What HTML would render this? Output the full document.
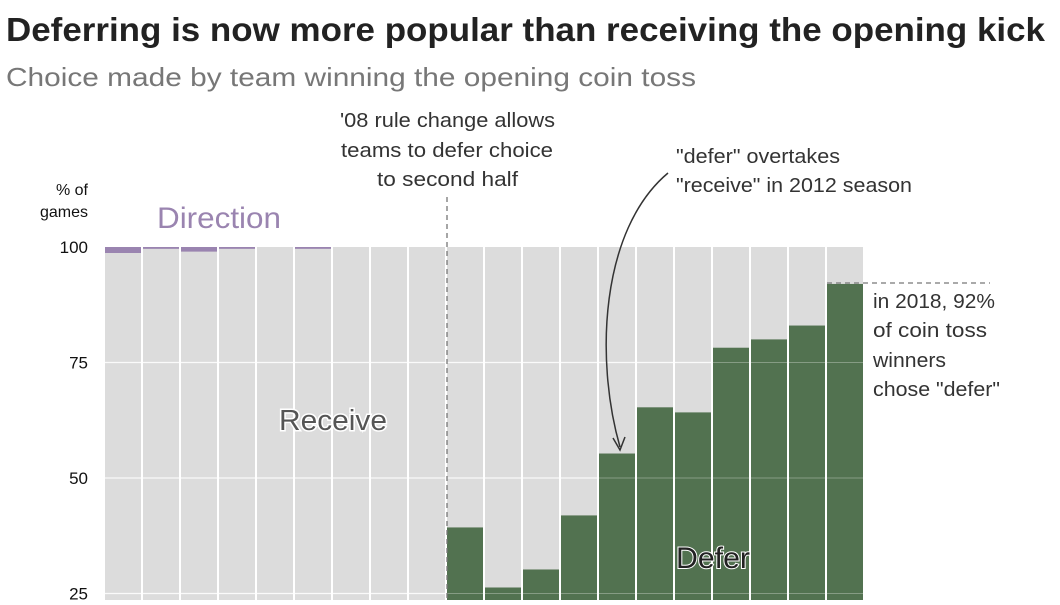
<!DOCTYPE html>
<html><head><meta charset="utf-8"><style>
body{margin:0;background:#fff;width:1060px;height:600px;overflow:hidden;font-family:"Liberation Sans",sans-serif}
</style></head><body>
<svg width="1060" height="600">
<text x="6" y="41" font-size="33" font-weight="bold" fill="#222" textLength="1039" lengthAdjust="spacingAndGlyphs">Deferring is now more popular than receiving the opening kick</text>
<text x="6" y="86" font-size="26" fill="#777" textLength="690" lengthAdjust="spacingAndGlyphs">Choice made by team winning the opening coin toss</text>
<g id="plot"></g>
<text x="88" y="195" font-size="16" text-anchor="end" fill="#111">% of</text>
<text x="88" y="217" font-size="16" text-anchor="end" fill="#111">games</text>
<text x="157" y="228" font-size="30" fill="#9a84b0" textLength="124" lengthAdjust="spacingAndGlyphs">Direction</text>
<text x="279" y="430" font-size="29" fill="#555" textLength="108" lengthAdjust="spacingAndGlyphs" stroke="#fff" stroke-width="3" paint-order="stroke">Receive</text>
<text x="676" y="568" font-size="30" fill="#222" textLength="74" lengthAdjust="spacingAndGlyphs" stroke="#fff" stroke-width="2" paint-order="stroke">Defer</text>
<g font-size="20" fill="#333">
<text x="340" y="127" textLength="215" lengthAdjust="spacingAndGlyphs">'08 rule change allows</text><text x="341" y="157" textLength="212" lengthAdjust="spacingAndGlyphs">teams to defer choice</text><text x="377" y="186" textLength="141" lengthAdjust="spacingAndGlyphs">to second half</text></g>
<line x1="447" y1="197" x2="447" y2="600" stroke="#777" stroke-width="1.3" stroke-dasharray="5,4"/>
<g font-size="20" fill="#333">
<text x="676" y="163" textLength="164" lengthAdjust="spacingAndGlyphs">"defer" overtakes</text><text x="676" y="192" textLength="236" lengthAdjust="spacingAndGlyphs">"receive" in 2012 season</text></g>
<path d="M668,173 C600,230 595,360 620,447" fill="none" stroke="#333" stroke-width="1.5"/>
<path d="M613,438 L620,450 L625,437" fill="none" stroke="#333" stroke-width="1.5"/>
<line x1="827" y1="283" x2="990" y2="283" stroke="#777" stroke-width="1.3" stroke-dasharray="5,4"/>
<g font-size="20" fill="#333">
<text x="873" y="308" textLength="122" lengthAdjust="spacingAndGlyphs">in 2018, 92%</text><text x="873" y="337" textLength="114" lengthAdjust="spacingAndGlyphs">of coin toss</text><text x="873" y="367" textLength="73" lengthAdjust="spacingAndGlyphs">winners</text><text x="873" y="396" textLength="127" lengthAdjust="spacingAndGlyphs">chose "defer"</text></g>
</svg>
<script>
const years=[1999,2000,2001,2002,2003,2004,2005,2006,2007,2008,2009,2010,2011,2012,2013,2014,2015,2016,2017,2018];
const deferVals=[0,0,0,0,0,0,0,0,0,39.3,26.3,30.2,41.9,55.3,65.3,64.2,78.2,80,83,92];
const directionVals=[1.3,0.4,1.0,0.4,0,0.4,0,0,0,0,0,0,0,0,0,0,0,0,0,0];
const yTicks=[25,50,75,100];
const NS="http://www.w3.org/2000/svg";
const g=document.getElementById('plot');
const x0=105,bw=38;
const y=v=>247+(100-v)*4.62;
const xs=i=>x0+i*bw;
function mk(t,a){const e=document.createElementNS(NS,t);for(const k in a)e.setAttribute(k,a[k]);g.appendChild(e);return e;}
years.forEach((yr,i)=>{
 const bg=mk('rect',{x:xs(i),y:y(100),width:bw-2,height:600-y(100),fill:'#dcdcdc'});
 
 
 if(directionVals[i]>0){const d=mk('rect',{x:xs(i),y:y(100),width:bw-2,height:directionVals[i]*4.62,fill:'#9a84b0'});
 
 }
});
yTicks.forEach(t=>{if(t<100){const l=mk('line',{x1:x0,x2:x0+years.length*bw,y1:y(t),y2:y(t),stroke:'#fff','stroke-width':1.2,'stroke-opacity':0.8});
 
 }
 const tx=mk('text',{x:88,y:y(t)+6,'font-size':17,'text-anchor':'end',fill:'#111'});tx.textContent=t;
 
 
});
years.forEach((yr,i)=>{if(deferVals[i]>0){const r=mk('rect',{x:xs(i),y:y(deferVals[i]),width:bw-2,height:600-y(deferVals[i]),fill:'#527250'});
 
 }
});
yTicks.forEach(t=>{if(t<100){mk('line',{x1:x0,x2:x0+years.length*bw,y1:y(t),y2:y(t),stroke:'#fff','stroke-width':1,'stroke-opacity':0.3});}});
</script>
</body></html>
